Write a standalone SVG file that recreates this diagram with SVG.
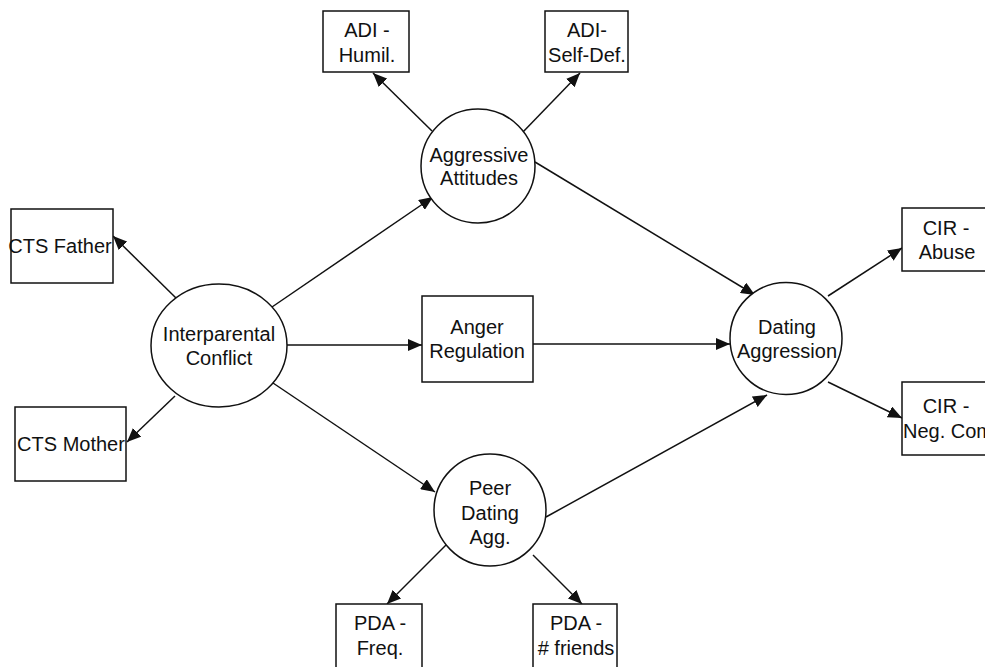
<svg xmlns="http://www.w3.org/2000/svg" width="985" height="667" viewBox="0 0 985 667">
<style>
.n{fill:#fff;stroke:#111;stroke-width:1.5}
.t{font-family:"Liberation Sans",Arial,sans-serif;font-size:20px;fill:#111;text-anchor:middle}
.s{text-anchor:start}
.c line{stroke:#111;stroke-width:1.5;marker-end:url(#ah)}
</style>
<defs>
<marker id="ah" markerUnits="userSpaceOnUse" markerWidth="14" markerHeight="12" viewBox="0 0 14 12" refX="14" refY="6" orient="auto">
<path d="M0,0 L14,6 L0,12 Z" fill="#111"/>
</marker>
</defs>
<rect width="985" height="667" fill="#fff"/>
<g class="c">
<line x1="432" y1="131" x2="373" y2="73"/>
<line x1="522" y1="133" x2="580" y2="73"/>
<line x1="272" y1="307" x2="433" y2="197"/>
<line x1="535" y1="162" x2="755" y2="295"/>
<line x1="176" y1="298" x2="113" y2="236"/>
<line x1="175" y1="396" x2="127" y2="442"/>
<line x1="287" y1="345" x2="422" y2="345"/>
<line x1="533" y1="344" x2="730" y2="344"/>
<line x1="273" y1="383" x2="435" y2="492"/>
<line x1="546" y1="517" x2="767" y2="395"/>
<line x1="448" y1="543" x2="387" y2="604"/>
<line x1="533" y1="555" x2="582" y2="604"/>
<line x1="828" y1="296" x2="902" y2="248"/>
<line x1="828" y1="382" x2="902" y2="418"/>
</g>
<g id="adi-humil"><rect class="n" x="323" y="11" width="86" height="61"/><text class="t" x="367" y="37">ADI -</text><text class="t" x="367" y="62">Humil.</text></g>
<g id="adi-selfdef"><rect class="n" x="545" y="11" width="83" height="61"/><text class="t" x="587" y="37">ADI-</text><text class="t" x="587" y="62">Self-Def.</text></g>
<g id="aggressive"><circle class="n" cx="478" cy="166" r="57"/><text class="t" x="479" y="162">Aggressive</text><text class="t" x="479" y="185">Attitudes</text></g>
<g id="cts-father"><rect class="n" x="11" y="209" width="102" height="74"/><text class="t" x="60" y="253">CTS Father</text></g>
<g id="cts-mother"><rect class="n" x="15" y="407" width="111" height="74"/><text class="t" x="71" y="451">CTS Mother</text></g>
<g id="interparental"><ellipse class="n" cx="219" cy="345.5" rx="68" ry="61.5"/><text class="t" x="219" y="341">Interparental</text><text class="t" x="219" y="365">Conflict</text></g>
<g id="anger"><rect class="n" x="422" y="296" width="111" height="86"/><text class="t" x="477" y="334">Anger</text><text class="t" x="477" y="358">Regulation</text></g>
<g id="dating"><circle class="n" cx="786" cy="338.5" r="56"/><text class="t" x="787" y="334">Dating</text><text class="t" x="787" y="358">Aggression</text></g>
<g id="cir-abuse"><rect class="n" x="902" y="208" width="90" height="63"/><text class="t" x="946" y="235">CIR -</text><text class="t" x="947" y="259">Abuse</text></g>
<g id="cir-negcom"><rect class="n" x="902" y="382" width="90" height="73"/><text class="t" x="946" y="413">CIR -</text><text class="t s" x="903" y="438">Neg. Com</text></g>
<g id="peer"><circle class="n" cx="490" cy="510" r="56"/><text class="t" x="490" y="495">Peer</text><text class="t" x="490" y="520">Dating</text><text class="t" x="490" y="544">Agg.</text></g>
<g id="pda-freq"><rect class="n" x="336" y="604" width="86" height="70"/><text class="t" x="380" y="630">PDA -</text><text class="t" x="380" y="655">Freq.</text></g>
<g id="pda-friends"><rect class="n" x="533" y="604" width="84" height="70"/><text class="t" x="576" y="630">PDA -</text><text class="t" x="576" y="655"># friends</text></g>
</svg>
